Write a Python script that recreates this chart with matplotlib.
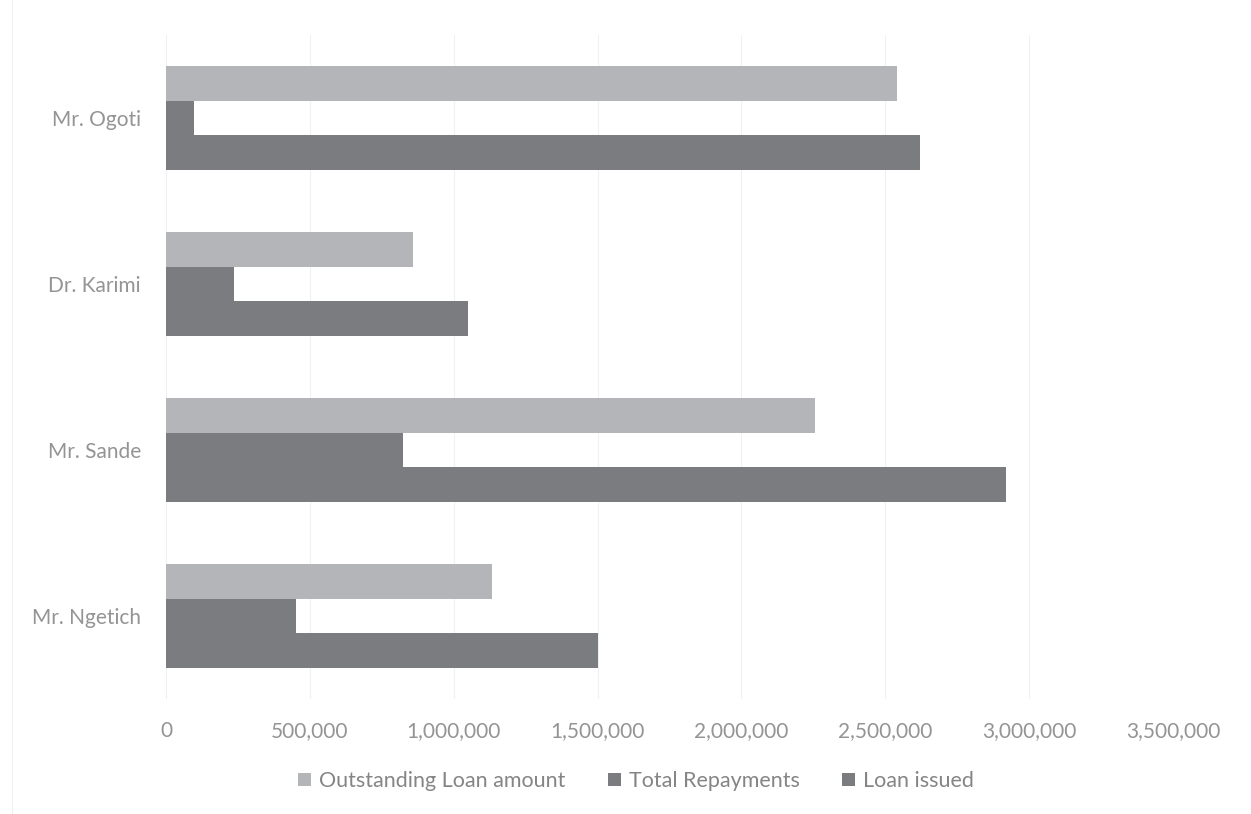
import matplotlib
matplotlib.use("Agg")
import matplotlib.pyplot as plt
import numpy as np
from matplotlib.ticker import FuncFormatter

plt.rcParams['font.family'] = ['Lato', 'DejaVu Sans']

categories = ["Mr. Ngetich", "Mr. Sande", "Dr. Karimi", "Mr. Ogoti"]
outstanding = [1132000, 2257000, 857000, 2541000]
repayments = [451000, 823000, 236000, 97000]
loan_issued = [1500000, 2920000, 1048000, 2620000]
series_names = ["Outstanding Loan amount", "Total Repayments", "Loan issued"]
xticks = [0, 500000, 1000000, 1500000, 2000000, 2500000, 3000000, 3500000]

c_light = "#b3b5b9"
c_dark = "#7b7c7f"
c_text = "#949494"

fig = plt.figure(figsize=(12.51, 8.14), dpi=100)
ax = fig.add_axes([166/1251, 1-699/814, (1173-166)/1251, (699-35)/814])

y = np.arange(len(categories))
h = 0.209
ax.barh(y + h, outstanding, height=h, color=c_light, label=series_names[0])
ax.barh(y, repayments, height=h, color=c_dark, label=series_names[1])
ax.barh(y - h, loan_issued, height=h, color=c_dark, label=series_names[2])

ax.set_xlim(0, 3500000)
ax.set_ylim(-0.5, len(categories) - 0.5)
ax.set_xticks(xticks)
ax.xaxis.set_major_formatter(FuncFormatter(lambda v, p: f"{int(v):,}"))
ax.set_yticks(y)
ax.set_yticklabels(categories)
ax.tick_params(axis='both', length=0, labelsize=15, colors=c_text)
ax.tick_params(axis='x', pad=16)
ax.tick_params(axis='y', pad=18)
for s in ax.spines.values():
    s.set_visible(False)
ax.grid(axis='x', color="#eef1f4", linewidth=0.8)
ax.set_axisbelow(True)

fig.legend(loc='center', bbox_to_anchor=(636/1251, 1-781/814), ncol=3, frameon=False,
           prop={'size': 15.5}, labelcolor="#858585",
           handlelength=0.6, handleheight=0.6, handletextpad=0.35, columnspacing=2.0)

fig.add_artist(plt.Line2D([12/1251, 12/1251], [0, 1], color="#eef0f3", linewidth=0.8))

fig.savefig("out.png", dpi=100, facecolor="white")
